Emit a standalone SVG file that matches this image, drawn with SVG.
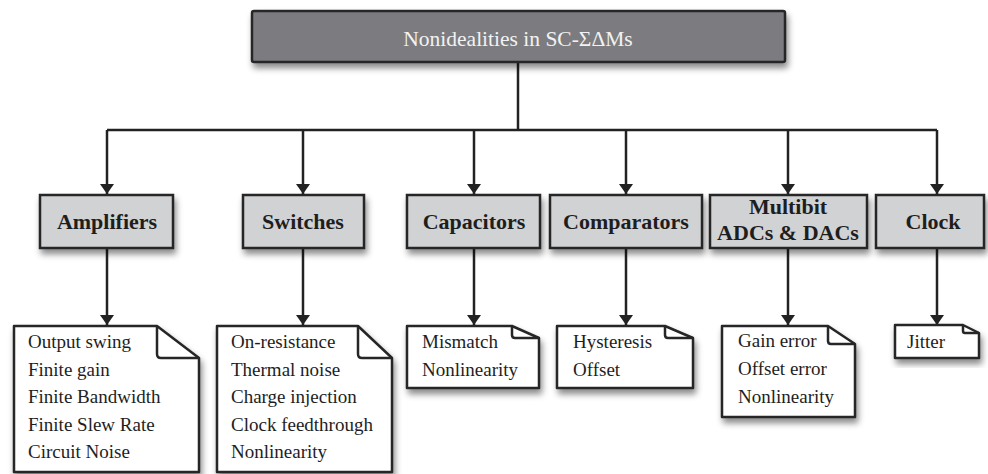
<svg xmlns="http://www.w3.org/2000/svg" width="988" height="474" viewBox="0 0 988 474">
<style>
.top{fill:#7b7c80;stroke:#262626;stroke-width:2.5}
.cat{fill:#d1d2d4;stroke:#262626;stroke-width:2.5}
.note{fill:#ffffff;stroke:#262626;stroke-width:2.5;stroke-linejoin:round}
.fold{fill:none;stroke:#262626;stroke-width:2.5;stroke-linejoin:round}
.conn{fill:none;stroke:#222;stroke-width:2.5}
.tt{font-family:"Liberation Serif","Times New Roman",serif;font-size:21.5px;fill:#f2f2f2;text-anchor:middle}
.ct{font-family:"Liberation Serif","Times New Roman",serif;font-size:22px;font-weight:bold;fill:#1e1e1e;text-anchor:middle}
.nt{font-family:"Liberation Serif","Times New Roman",serif;font-size:19px;fill:#1e1e1e}
</style>
<defs>
<marker id="ah" viewBox="0 0 10 14" refX="10" refY="7" markerWidth="10" markerHeight="14" markerUnits="userSpaceOnUse" orient="auto">
<path d="M0,0 L10,7 L0,14 Z" fill="#222"/>
</marker>
<filter id="sh" x="-10%" y="-10%" width="130%" height="140%">
<feDropShadow dx="2" dy="5" stdDeviation="3" flood-color="#000" flood-opacity="0.45"/>
</filter>
</defs>

<g id="connectors">
<path class="conn" d="M518,62 V130"/>
<path class="conn" d="M107,130 H937"/>
<path class="conn" d="M107,130 V194" marker-end="url(#ah)"/>
<path class="conn" d="M303,130 V194" marker-end="url(#ah)"/>
<path class="conn" d="M474,130 V194" marker-end="url(#ah)"/>
<path class="conn" d="M626,130 V194" marker-end="url(#ah)"/>
<path class="conn" d="M788,130 V194" marker-end="url(#ah)"/>
<path class="conn" d="M937,130 V194" marker-end="url(#ah)"/>
<path class="conn" d="M107,248 V325" marker-end="url(#ah)"/>
<path class="conn" d="M303,248 V325" marker-end="url(#ah)"/>
<path class="conn" d="M474,248 V325" marker-end="url(#ah)"/>
<path class="conn" d="M626,248 V325" marker-end="url(#ah)"/>
<path class="conn" d="M788,248 V325" marker-end="url(#ah)"/>
<path class="conn" d="M937,248 V325" marker-end="url(#ah)"/>
</g>

<g id="root">
<rect class="top" x="252" y="11" width="533" height="51" rx="2" filter="url(#sh)"/>
<text class="tt" x="518" y="46">Nonidealities in SC-ΣΔMs</text>
</g>

<g id="amplifiers">
<rect class="cat" x="40" y="195" width="133" height="53" filter="url(#sh)"/>
<text class="ct" x="107" y="229">Amplifiers</text>
</g>
<g id="switches">
<rect class="cat" x="243" y="195" width="121" height="53" filter="url(#sh)"/>
<text class="ct" x="303" y="229">Switches</text>
</g>
<g id="capacitors">
<rect class="cat" x="407" y="195" width="133" height="53" filter="url(#sh)"/>
<text class="ct" x="474" y="229">Capacitors</text>
</g>
<g id="comparators">
<rect class="cat" x="550" y="195" width="152" height="53" filter="url(#sh)"/>
<text class="ct" x="626" y="229">Comparators</text>
</g>
<g id="multibit">
<rect class="cat" x="710" y="195" width="157" height="53" filter="url(#sh)"/>
<text class="ct" x="788" y="214">Multibit</text>
<text class="ct" x="788" y="240">ADCs &amp; DACs</text>
</g>
<g id="clock">
<rect class="cat" x="876" y="195" width="108" height="53" filter="url(#sh)"/>
<text class="ct" x="933" y="229">Clock</text>
</g>

<g id="note-amplifiers">
<path class="note" d="M14,326 H157 L199,358 V472 H14 Z" filter="url(#sh)"/>
<path class="fold" d="M157,326 V354 Q157,358 161,358 H199"/>
<text class="nt" x="28" y="348">Output swing</text>
<text class="nt" x="28" y="376">Finite gain</text>
<text class="nt" x="28" y="403">Finite Bandwidth</text>
<text class="nt" x="28" y="431">Finite Slew Rate</text>
<text class="nt" x="28" y="458">Circuit Noise</text>
</g>
<g id="note-switches">
<path class="note" d="M217,326 H358 L392,358 V472 H217 Z" filter="url(#sh)"/>
<path class="fold" d="M358,326 V354 Q358,358 362,358 H392"/>
<text class="nt" x="231" y="348">On-resistance</text>
<text class="nt" x="231" y="376">Thermal noise</text>
<text class="nt" x="231" y="403">Charge injection</text>
<text class="nt" x="231" y="431">Clock feedthrough</text>
<text class="nt" x="231" y="458">Nonlinearity</text>
</g>
<g id="note-capacitors">
<path class="note" d="M407,326 H512 L539,338 V388 H407 Z" filter="url(#sh)"/>
<path class="fold" d="M512,326 V335 Q512,338 515,338 H539"/>
<text class="nt" x="422" y="348">Mismatch</text>
<text class="nt" x="422" y="376">Nonlinearity</text>
</g>
<g id="note-comparators">
<path class="note" d="M557,326 H665 L693,338 V388 H557 Z" filter="url(#sh)"/>
<path class="fold" d="M665,326 V335 Q665,338 668,338 H693"/>
<text class="nt" x="573" y="348">Hysteresis</text>
<text class="nt" x="573" y="376">Offset</text>
</g>
<g id="note-multibit">
<path class="note" d="M722,326 H828 L855,344 V417 H722 Z" filter="url(#sh)"/>
<path class="fold" d="M828,326 V341 Q828,344 831,344 H855"/>
<text class="nt" x="738" y="347">Gain error</text>
<text class="nt" x="738" y="375">Offset error</text>
<text class="nt" x="738" y="403">Nonlinearity</text>
</g>
<g id="note-clock">
<path class="note" d="M895,325 H963 L979,333 V358 H895 Z" filter="url(#sh)"/>
<path class="fold" d="M963,325 V331 Q963,333 965,333 H979"/>
<text class="nt" x="907" y="348">Jitter</text>
</g>
</svg>
